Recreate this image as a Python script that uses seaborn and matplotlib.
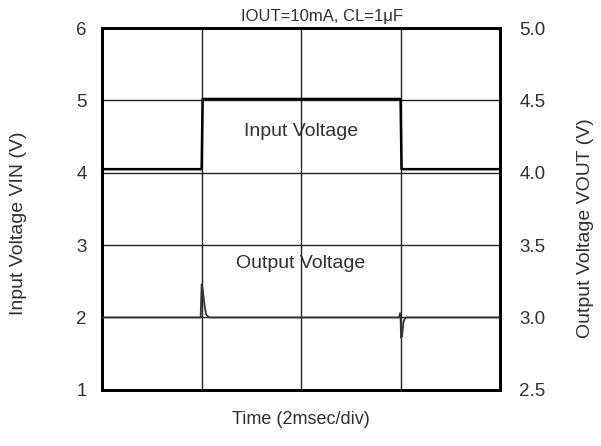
import matplotlib
matplotlib.use("Agg")
import matplotlib.pyplot as plt
import seaborn as sns
import pandas as pd

# Input voltage trace (time in ms, VIN in V)
t_in = [0.0, 2.0, 2.02, 6.0, 6.02, 8.0]
vin = [4.05, 4.05, 5.02, 5.02, 4.05, 4.05]

# Output voltage trace (time in ms, VOUT in V)
t_out = [0.0, 1.98, 2.0, 2.01, 2.03, 2.06, 2.09, 2.15, 5.97, 5.99, 6.0, 6.01, 6.03, 6.06, 6.1, 8.0]
vout = [3.0, 3.0, 3.23, 3.22, 3.17, 3.08, 3.02, 3.0, 3.0, 3.03, 3.0, 2.86, 2.87, 2.97, 3.0, 3.0]

left_ticks = [1, 2, 3, 4, 5, 6]
right_ticks = [2.5, 3.0, 3.5, 4.0, 4.5, 5.0]
right_labels = ["2.5", "3.0", "3.5", "4.0", "4.5", "5.0"]
x_grid = [0, 2, 4, 6, 8]

sns.set_style("white")
plt.rcParams["font.family"] = ["Liberation Sans", "DejaVu Sans"]

TXT = "#303030"

fig = plt.figure(figsize=(6.01, 4.46), dpi=100)
ax = fig.add_axes([0.170, 0.126, 0.662, 0.811])
ax2 = ax.twinx()

df_in = pd.DataFrame({"t": t_in, "v": vin})
df_out = pd.DataFrame({"t": t_out, "v": vout})

ax.set_xlim(0, 8)
ax.set_ylim(1, 6)
ax2.set_ylim(2.5, 5.0)

# grid
for x in x_grid[1:-1]:
    ax.axvline(x, color="#222222", lw=1.0, zorder=1)
for y in left_ticks[1:-1]:
    ax.axhline(y, color="#222222", lw=1.0, zorder=1)

sns.lineplot(data=df_in, x="t", y="v", ax=ax, color="black", lw=1.8,
             estimator=None, sort=False, zorder=3)
sns.lineplot(data=df_out, x="t", y="v", ax=ax2, color="#333333", lw=1.3,
             estimator=None, sort=False, zorder=3)

ax.set_yticks(left_ticks)
ax.set_yticklabels([str(v) for v in left_ticks], fontsize=13.5, color=TXT)
ax2.set_yticks(right_ticks)
ax2.set_yticklabels(right_labels, fontsize=13.5, color=TXT)
ax.set_xticks([])
ax.tick_params(axis="y", length=0, pad=11)
ax2.tick_params(axis="y", length=0, pad=14)

ax.set_xlabel("Time (2msec/div)", fontsize=13, color=TXT)
ax.set_ylabel("Input Voltage VIN (V)", fontsize=14, color=TXT)
ax2.set_ylabel("Output Voltage VOUT (V)", fontsize=14, color=TXT, rotation=90)
ax.xaxis.set_label_coords(0.5, -0.083, transform=ax.transAxes)
ax.xaxis.label.set_va("center")
ax.yaxis.set_label_coords(-0.211, 0.461, transform=ax.transAxes)
ax.yaxis.label.set_va("center")
ax2.yaxis.set_label_coords(1.214, 0.448, transform=ax2.transAxes)
ax2.yaxis.label.set_va("center")

for a in (ax, ax2):
    for s in a.spines.values():
        s.set_linewidth(2.0)
        s.set_color("black")

ax.text(4, 4.57, "Input Voltage", ha="center", va="center", fontsize=14, color=TXT)
ax.text(4, 2.74, "Output Voltage", ha="center", va="center", fontsize=14, color=TXT)
ax.text(0.553, 1.012, "IOUT=10mA, CL=1\u03bcF", transform=ax.transAxes,
        ha="center", va="bottom", fontsize=12, color=TXT)

fig.savefig("out.png", dpi=100, facecolor="white")
